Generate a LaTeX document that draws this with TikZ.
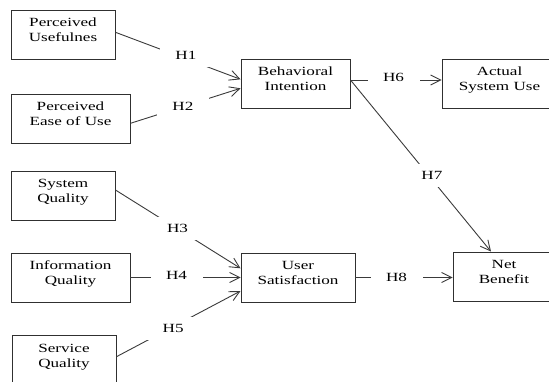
\documentclass[tikz,border=0pt]{standalone}
\usepackage{fontspec}
\setmainfont{Liberation Serif}[FakeStretch=1.37]
\usetikzlibrary{arrows.meta,calc}
\definecolor{linec}{HTML}{3A3A3A}
\definecolor{boxc}{HTML}{303030}
\newcommand{\dn}{\rule[-9pt]{0pt}{9pt}}
\tikzset{
  box/.style={draw=boxc, line width=0.95pt, align=center, inner sep=0pt,
    minimum height=49pt, font=\fontsize{12.5}{15}\selectfont, text=black},
  conn/.style={draw=linec, line width=0.9pt, -{Straight Barb[length=10pt,width=10pt,line width=0.9pt]}},
  lbl/.style={fill=white, inner sep=0pt, minimum width=52pt, minimum height=23pt,
    font=\fontsize{12.5}{15}\selectfont, text=black}
}
\begin{document}
\begin{tikzpicture}[x=1pt,y=-1pt]
\useasboundingbox (0,0) rectangle (549,381);
\clip (0,0) rectangle (549,381);
% boxes
\node[box, minimum width=104pt] (pu)   at (63,34.5)   {Perceived\\Usefulnes\dn};
\node[box, minimum width=119pt] (peou) at (70.5,118.5) {Perceived\\Ease of Use\dn};
\node[box, minimum width=104pt] (sq)   at (63,195.5)  {System\\Quality\dn};
\node[box, minimum width=119pt] (iq)   at (70.5,277.5) {Information\\Quality\dn};
\node[box, minimum width=104pt] (serq) at (64,360)    {Service\\Quality\dn};
\node[box, minimum width=109pt] (bi)   at (295.5,83.5) {Behavioral\\Intention\dn};
\node[box, minimum width=114pt] (us)   at (298,277.5) {User\\Satisfaction\dn};
\node[box, minimum width=115pt] (asu)  at (499.5,83.5) {Actual\\System Use\dn};
\node[box, minimum width=102pt] (nb)   at (504,276.5) {Net\\Benefit\dn};
% connectors
\draw[conn] ($(pu.east)+(0,-2.2)$) -- node[lbl, pos=0.563, yshift=3.5pt] {H1} ($(bi.west)+(0,-4.2)$);
\draw[conn] ($(peou.east)+(0,4.8)$) -- node[lbl, pos=0.476] {H2} ($(bi.west)+(0,4.8)$);
\draw[conn] ($(bi.east)+(0,-3.5)$) -- node[lbl, pos=0.473, yshift=2.5pt] {H6} ($(asu.west)+(0,-3.5)$);
\draw[conn] ($(bi.east)+(0,-3.5)$) -- node[lbl, pos=0.558, xshift=3pt] {H7} ($(nb.north)+(-13,0)$);
\draw[conn] ($(sq.east)+(0,-5.5)$) -- node[lbl, pos=0.496] {H3} ($(us.west)+(0,-9.2)$);
\draw[conn] (iq.east) -- node[lbl, pos=0.419, yshift=2pt] {H4} (us.west);
\draw[conn] ($(serq.east)+(0,-3.3)$) -- node[lbl, pos=0.457, yshift=-2pt] {H5} ($(us.west)+(0,13.5)$);
\draw[conn] (us.east) -- node[lbl, pos=0.423] {H8} (us.east -| nb.west);
\end{tikzpicture}
\end{document}
